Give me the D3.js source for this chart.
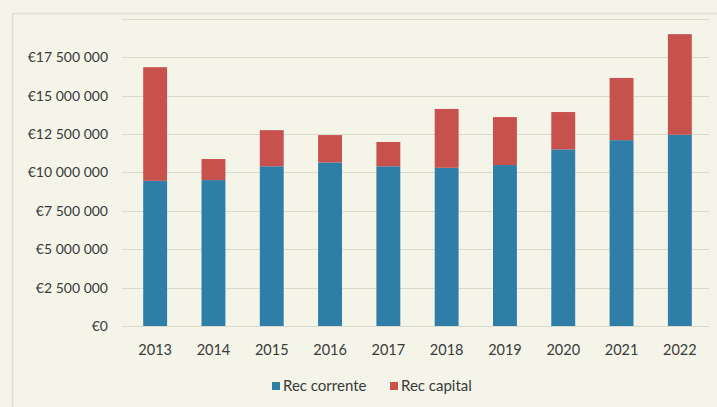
<!DOCTYPE html>
<html>
<head>
<meta charset="utf-8">
<script src="https://cdn.jsdelivr.net/npm/d3@7"></script>
<style>
  body { margin: 0; background: #f4f4e9; }
  svg { display: block; }
  text { font-family: Lato, "Open Sans", sans-serif; fill: #3a3a3a; }
</style>
</head>
<body>
<div class="board"></div>
<script>
var W = 717, H = 407;

var years = ["2013", "2014", "2015", "2016", "2017", "2018", "2019", "2020", "2021", "2022"];
var corrente = [9450000, 9500000, 10400000, 10650000, 10400000, 10300000, 10480000, 11500000, 12100000, 12450000];
var capital = [7400000, 1370000, 2350000, 1780000, 1580000, 3830000, 3120000, 2430000, 4050000, 6550000];
var yTicks = [0, 2500000, 5000000, 7500000, 10000000, 12500000, 15000000, 17500000, 20000000];
var seriesNames = ["Rec corrente", "Rec capital"];
var colors = ["#2e7ea8", "#c7524d"];

var svg = d3.select(".board")
    .append("svg")
    .attr("width", W)
    .attr("height", H)

// faint outer frame
svg.append("path")
    .attr("d", "M12.5,407 V13.5 H717")
    .attr("fill", "none")
    .attr("stroke", "#dedfd2")
    .attr("stroke-width", 1.5)

var x = d3.scaleBand()
    .domain(years)
    .range([126, 709])
    .paddingInner(0.59)
    .paddingOuter(0.295)

var y = d3.scaleLinear()
    .domain([0, 20000000])
    .range([326, 18.8])

// gridlines
svg.selectAll(".grid")
    .data(yTicks)
    .enter()
    .append("line")
    .attr("x1", 122)
    .attr("x2", 709)
    .attr("y1", d => Math.round(y(d)) + 0.5)
    .attr("y2", d => Math.round(y(d)) + 0.5)
    .attr("stroke", "#d9d9cc")
    .attr("stroke-width", 1.2)

var fmt = d => "€" + d3.format(",")(d).replace(/,/g, " ")

svg.selectAll(".ylab")
    .data(yTicks.filter(d => d < 20000000))
    .enter()
    .append("text")
    .attr("x", 108)
    .attr("y", d => y(d) + 5)
    .attr("text-anchor", "end")
    .attr("font-size", 14)
    .style("white-space", "pre")
    .text(fmt)

var rows = years.map((yr, i) => ({ year: yr, c: corrente[i], k: capital[i] }))
var stack = d3.stack().keys(["c", "k"])(rows)

svg.selectAll(".series")
    .data(stack)
    .enter()
    .append("g")
    .attr("fill", (d, i) => colors[i])
    .selectAll("rect")
    .data(d => d)
    .enter()
    .append("rect")
    .attr("x", d => x(d.data.year))
    .attr("width", x.bandwidth())
    .attr("y", d => y(d[1]))
    .attr("height", d => y(d[0]) - y(d[1]))

svg.selectAll(".xlab")
    .data(years)
    .enter()
    .append("text")
    .attr("x", d => x(d) + x.bandwidth() / 2)
    .attr("y", 355)
    .attr("text-anchor", "middle")
    .attr("font-size", 14.5)
    .text(d => d)

// legend
var legend = svg.append("g")
var lx = [272, 390]
seriesNames.forEach((name, i) => {
    legend.append("rect")
        .attr("x", lx[i])
        .attr("y", 382)
        .attr("width", 8)
        .attr("height", 8)
        .attr("fill", colors[i])
    legend.append("text")
        .attr("x", lx[i] + 11)
        .attr("y", 391)
        .attr("font-size", 15)
        .text(name)
})
</script>
</body>
</html>
